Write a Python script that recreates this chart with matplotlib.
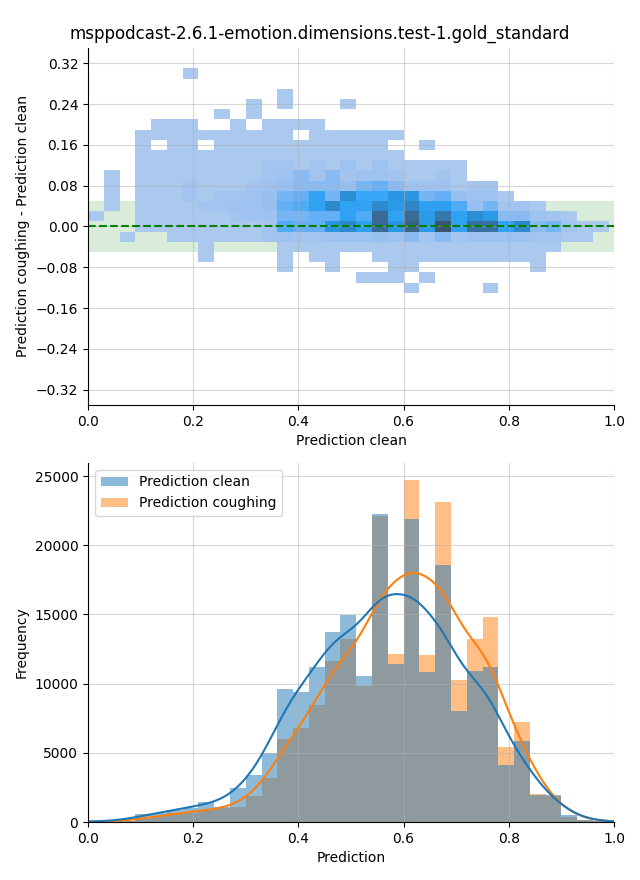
import numpy as np
import matplotlib
matplotlib.use("Agg")
import matplotlib.pyplot as plt
from matplotlib.patches import Patch
import seaborn as sns

titulo = "msppodcast-2.6.1-emotion.dimensions.test-1.gold_standard"

# bins de 0.03 entre 0 e 0.99 (mesmos nos dois graficos)
bordas = np.arange(34) * 0.03
bordas_y = np.arange(23) * 0.02 - 0.13

clean = [50, 80, 100, 550, 630, 870, 1040, 1470, 1100, 2440, 3400, 4980, 9640, 9370, 11230, 13700, 14950,
         10580, 22250, 11450, 21880, 10820, 18550, 7990, 10890, 11180, 4130, 5870, 1950, 1930, 480, 150, 70]
coughing = [30, 50, 80, 250, 430, 630, 680, 870, 1000, 1110, 1880, 3210, 6010, 6760, 8480, 11620, 13260,
            9810, 22120, 12170, 24710, 12080, 23120, 10290, 13190, 14850, 5390, 7250, 2050, 1900, 350, 180, 70]

# contagem por celula do histograma 2d, codigo -> contagem
niveis = {'1': 40, '2': 280, '3': 390, '4': 560, '5': 880, '6': 1290, '7': 1640, '8': 1920, '9': 2200,
          'a': 2340, 'b': 2480, 'c': 2620, 'd': 2890, 'e': 3170, 'f': 3590, 'g': 3910, 'h': 4080,
          'k': 4360, 'm': 4840, 'n': 5330, 'p': 5680, 'q': 6300, 'r': 7000}

# linhas de cima (y=0.30) pra baixo (y=-0.12), colunas x = 0.015 ... 0.975
grade = [
    "......1... .......... .......... ...",
    ".......... .......... .......... ...",
    ".......... ..1....... .......... ...",
    ".......... 1.1...1... .......... ...",
    "........1. 1......... .......... ...",
    "....111..1 .1111..... .......... ...",
    "...1111111 111.111111 .......... ...",
    "...1.11.11 111111111. .1........ ...",
    "...1111111 1111111111 .......... ...",
    "...1111111 1221213131 1111...... ...",
    ".1.1111111 1235252332 1121...... ...",
    ".1.1112111 2345554675 333122.... ...",
    ".1.1112122 3467b6f99e e674331... ...",
    ".1.1111223 3478bgbbgd hcc846221. ...",
    "1..1111112 336677b8pb pdmbfd5532 1..",
    "...1111111 12877egcpe qdrbnnbg56 211",
    "..1..11111 1232233343 5252333322 11.",
    ".......1.. ..11111111 1111111111 ...",
    ".......1.. ..1.11..11 111111111. ...",
    ".......... ..1..1...1 1.......1. ...",
    ".......... .......111 .1........ ...",
    ".......... .......... 1....1.... ...",
]

xc = (bordas[:-1] + bordas[1:]) / 2
yc = (bordas_y[:-1] + bordas_y[1:]) / 2
contagem = np.array([[niveis.get(c, 0) for c in linha.replace(" ", "")] for linha in grade[::-1]])
X, Y = np.meshgrid(xc, yc)


def kde(valores, pesos, bw, grid):
    # soma de gaussianas ponderada, na escala de contagem por bin
    pesos = np.asarray(pesos, dtype=float)
    k = np.exp(-0.5 * ((grid[:, None] - valores[None, :]) / bw) ** 2) / (np.sqrt(2 * np.pi) * bw)
    return (k * pesos[None, :]).sum(axis=1) * 0.03


fig = plt.figure(figsize=(6.4, 8.8), dpi=100)
ax1 = fig.add_axes([0.1375, 0.5398, 0.8219, 0.4057])
ax2 = fig.add_axes([0.1375, 0.0659, 0.8219, 0.4080])
fig.suptitle(titulo, y=0.972, fontsize=12)

# diferenca coughing - clean
ax1.axhspan(-0.05, 0.05, color='green', alpha=0.15, zorder=0, lw=0)
sns.histplot(x=X.ravel(), y=Y.ravel(), weights=contagem.ravel(), bins=[bordas, bordas_y], ax=ax1)
ax1.axhline(0, color='green', ls='--', lw=1.5)
ax1.set_xlim(0, 1)
ax1.set_ylim(-0.35, 0.35)
ax1.set_yticks(np.round(np.arange(-0.32, 0.33, 0.08), 2))
ax1.set_xlabel("Prediction clean")
ax1.set_ylabel("Prediction coughing - Prediction clean")

# histogramas das predicoes (coughing embaixo)
grid = np.linspace(0, 1, 300)
ax2.hist(xc, bins=bordas, weights=coughing, color='C1', alpha=0.5)
ax2.hist(xc, bins=bordas, weights=clean, color='C0', alpha=0.5)
ax2.plot(grid, kde(xc, coughing, 0.036, grid), color='C1', lw=1.5)
ax2.plot(grid, kde(xc, clean, 0.036, grid), color='C0', lw=1.5)
ax2.set_xlim(0, 1)
ax2.set_xlabel("Prediction")
ax2.set_ylabel("Frequency")
ax2.legend(handles=[Patch(facecolor='C0', alpha=0.5, label='Prediction clean'),
                    Patch(facecolor='C1', alpha=0.5, label='Prediction coughing')], loc='upper left')

for ax in (ax1, ax2):
    ax.grid(True, color='#b0b0b0', alpha=0.5, lw=0.8)
    ax.spines['top'].set_visible(False)
    ax.spines['right'].set_visible(False)

fig.savefig("out.png", dpi=100)
